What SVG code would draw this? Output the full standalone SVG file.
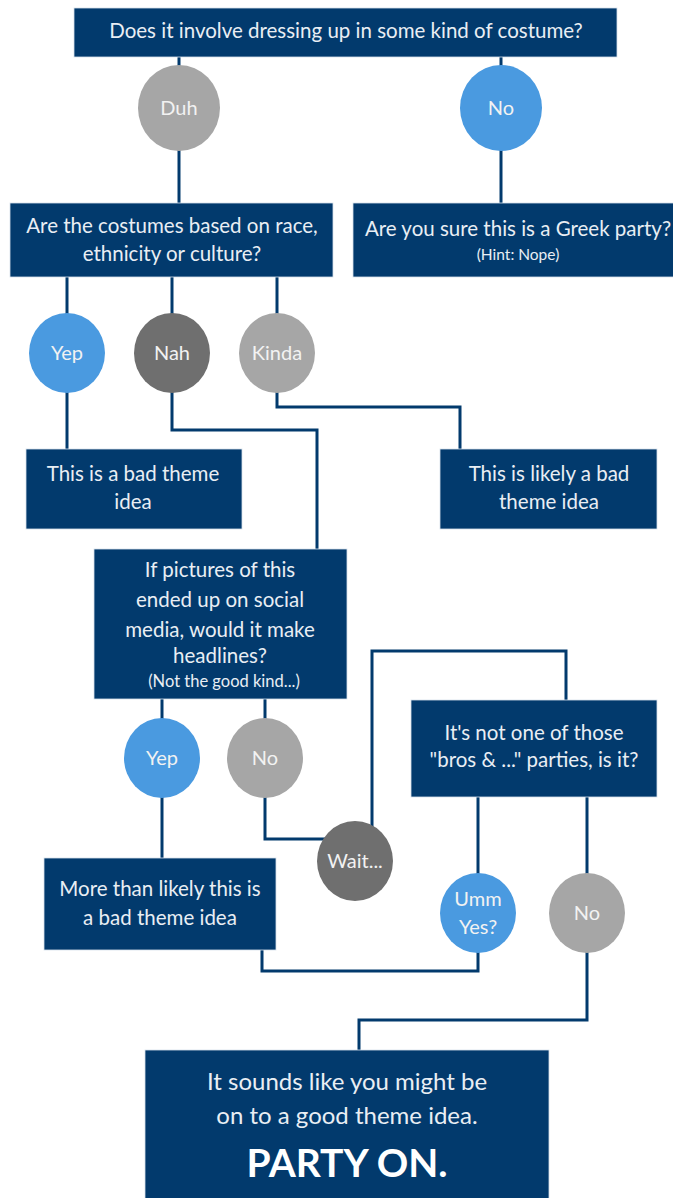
<svg xmlns="http://www.w3.org/2000/svg" width="673" height="1198" viewBox="0 0 673 1198">
<style>
.box{fill:#023a6d;stroke:#d8e2ec;stroke-width:0.8}
.t{font-family:Lato,"Noto Sans",sans-serif;font-size:20.5px;fill:#e9eef4;text-anchor:middle}
.s{font-size:15.5px}
.c{font-family:Lato,"Noto Sans",sans-serif;font-size:20px;fill:#f2f2f2;text-anchor:middle}
.blue{fill:#4a9ae0}
.dark{fill:#6f6f6f}
.light{fill:#a6a6a6}
.ln{fill:none;stroke:#023a6d;stroke-width:3}
</style>
<rect width="673" height="1198" fill="#ffffff"/>
<g id="connectors">
<path class="ln" d="M179 57V108"/>
<path class="ln" d="M501 57V108"/>
<path class="ln" d="M179 108V203"/>
<path class="ln" d="M501 108V203"/>
<path class="ln" d="M67 277V353"/>
<path class="ln" d="M172 277V353"/>
<path class="ln" d="M277 277V353"/>
<path class="ln" d="M67 353V449"/>
<path class="ln" d="M277 353V407H460V449"/>
<path class="ln" d="M172 353V430H317V549"/>
<path class="ln" d="M162 699V758"/>
<path class="ln" d="M265 699V758"/>
<path class="ln" d="M162 758V858"/>
<path class="ln" d="M265 758V839H340"/>
<path class="ln" d="M372 840V651H566V700"/>
<path class="ln" d="M478 797V913"/>
<path class="ln" d="M587 797V913"/>
<path class="ln" d="M478 913V971H262V950"/>
<path class="ln" d="M587 913V1020H359V1050"/>
</g>
<g id="q1"><rect class="box" x="74" y="8" width="543" height="49"/><text class="t" x="346" y="38">Does it involve dressing up in some kind of costume?</text></g>
<g id="duh"><ellipse class="light" cx="179" cy="108" rx="41" ry="43"/><text class="c" x="179" y="115">Duh</text></g>
<g id="no1"><ellipse class="blue" cx="501" cy="108" rx="41" ry="43"/><text class="c" x="501" y="115">No</text></g>
<g id="q2"><rect class="box" x="10" y="203" width="323" height="74"/><text class="t" x="172" y="233">Are the costumes based on race,</text><text class="t" x="172" y="261">ethnicity or culture?</text></g>
<g id="greek"><rect class="box" x="353" y="203" width="325" height="74"/><text class="t" x="518" y="236">Are you sure this is a Greek party?</text><text class="t s" x="518" y="260">(Hint: Nope)</text></g>
<g id="yep1"><ellipse class="blue" cx="67" cy="353" rx="38" ry="40"/><text class="c" x="67" y="360">Yep</text></g>
<g id="nah"><ellipse class="dark" cx="172" cy="353" rx="38" ry="40"/><text class="c" x="172" y="360">Nah</text></g>
<g id="kinda"><ellipse class="light" cx="277" cy="353" rx="38" ry="40"/><text class="c" x="277" y="360">Kinda</text></g>
<g id="bad1"><rect class="box" x="26" y="449" width="216" height="80"/><text class="t" x="133" y="481">This is a bad theme</text><text class="t" x="133" y="509">idea</text></g>
<g id="bad2"><rect class="box" x="440" y="449" width="217" height="80"/><text class="t" x="549" y="481">This is likely a bad</text><text class="t" x="549" y="509">theme idea</text></g>
<g id="q3"><rect class="box" x="94" y="549" width="253" height="150"/><text class="t" x="220" y="577">If pictures of this</text><text class="t" x="220" y="607">ended up on social</text><text class="t" x="220" y="637">media, would it make</text><text class="t" x="220" y="663">headlines?</text><text class="t" x="224" y="687" style="font-size:16.5px">(Not the good kind...)</text></g>
<g id="yep2"><ellipse class="blue" cx="162" cy="758" rx="38" ry="40"/><text class="c" x="162" y="765">Yep</text></g>
<g id="no2"><ellipse class="light" cx="265" cy="758" rx="38" ry="40"/><text class="c" x="265" y="765">No</text></g>
<g id="wait"><ellipse class="dark" cx="355" cy="861" rx="38" ry="40"/><text class="c" x="355" y="868">Wait...</text></g>
<g id="bad3"><rect class="box" x="44" y="858" width="232" height="92"/><text class="t" x="160" y="896">More than likely this is</text><text class="t" x="160" y="925">a bad theme idea</text></g>
<g id="q4"><rect class="box" x="411" y="700" width="246" height="97"/><text class="t" x="534" y="740">It's not one of those</text><text class="t" x="534" y="767">"bros &amp; ..." parties, is it?</text></g>
<g id="umm"><ellipse class="blue" cx="478" cy="913" rx="38" ry="40"/><text class="c" x="478" y="906">Umm</text><text class="c" x="478" y="934">Yes?</text></g>
<g id="no3"><ellipse class="light" cx="587" cy="913" rx="38" ry="40"/><text class="c" x="587" y="920">No</text></g>
<g id="final"><rect class="box" x="145" y="1050" width="404" height="160"/><text class="t" x="347" y="1090" style="font-size:24px">It sounds like you might be</text><text class="t" x="347" y="1124" style="font-size:24px">on to a good theme idea.</text><text class="t" x="347" y="1177" style="font-size:39px;font-weight:bold;fill:#ffffff">PARTY ON.</text></g>
</svg>
